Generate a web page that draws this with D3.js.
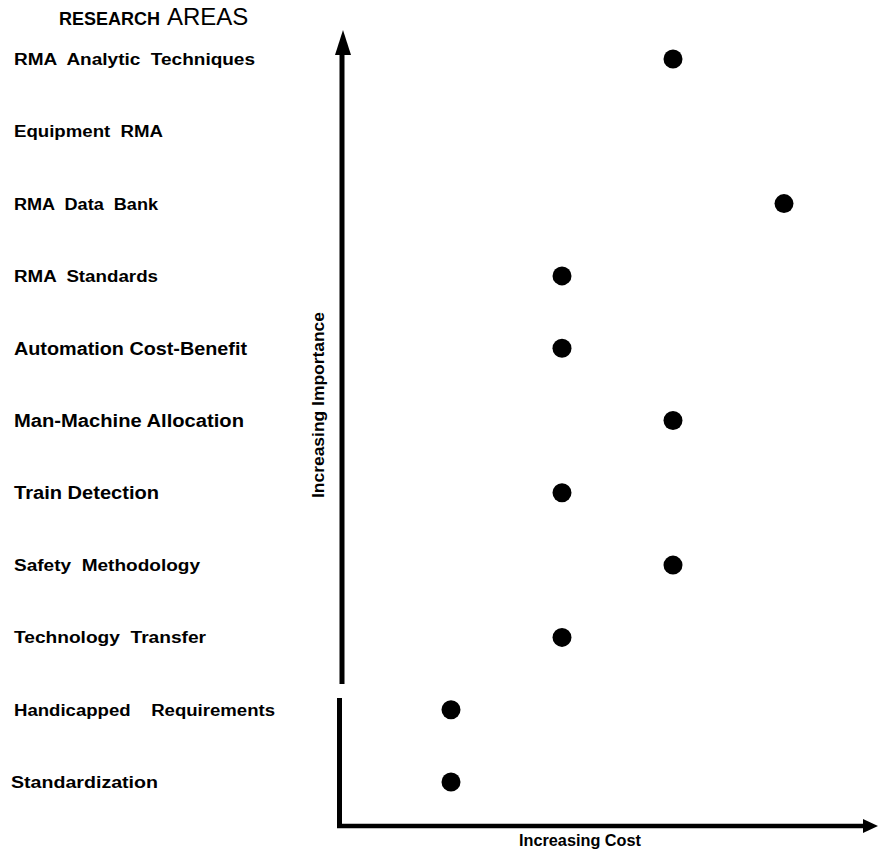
<!DOCTYPE html>
<html>
<head>
<meta charset="utf-8">
<script src="https://cdn.jsdelivr.net/npm/d3@7"></script>
<style>
  html, body { margin: 0; padding: 0; background: #fff; }
  svg { display: block; }
  text { font-family: "Liberation Sans", Arial, Helvetica, sans-serif; fill: #000; }
</style>
</head>
<body>
<svg id="chart" width="878" height="852"></svg>
<script>
// ---- data ----
const categories = [
  "RMA  Analytic  Techniques",
  "Equipment  RMA",
  "RMA  Data  Bank",
  "RMA  Standards",
  "Automation Cost-Benefit",
  "Man-Machine Allocation",
  "Train Detection",
  "Safety  Methodology",
  "Technology  Transfer",
  "Handicapped    Requirements",
  "Standardization"
];
// relative cost level (1 = lowest); null = no marker
const costLevel = [3, null, 4, 2, 2, 3, 2, 3, 2, 1, 1];
// measured label widths (px) to match the scanned typesetting
const labelWidth = [241, 149, 144, 144, 233, 230, 145, 186, 192, 261, 147];
const labelSize = [16, 16, 16, 16, 18, 18, 18, 16, 16, 16, 16.5];

const titleBold = "RESEARCH";
const titleRegular = "AREAS";
const yAxisTitle = "Increasing Importance";
const xAxisTitle = "Increasing Cost";

// ---- layout ----
const svg = d3.select("#chart");

const y = d3.scalePoint().domain(categories).range([59, 782]);
const x = d3.scaleLinear().domain([1, 4]).range([451, 784]);

// title
const title = svg.append("text").attr("x", 59).attr("y", 25);
title.append("tspan").attr("font-weight", "bold").attr("font-size", 18).text(titleBold);
title.append("tspan").attr("font-size", 24).attr("dx", 7).text(titleRegular);

// category labels
svg.append("g").selectAll("text")
  .data(categories)
  .join("text")
  .attr("x", (d, i) => i === categories.length - 1 ? 11 : 14)
  .attr("y", (d, i) => y(d) + (labelSize[i] > 17 ? 6.5 : 6))
  .attr("font-weight", "bold")
  .attr("font-size", (d, i) => labelSize[i])
  .attr("textLength", (d, i) => labelWidth[i])
  .attr("lengthAdjust", "spacingAndGlyphs")
  .style("white-space", "pre")
  .text(d => d);

// y axis (with break)
svg.append("line").attr("x1", 342).attr("x2", 342).attr("y1", 48).attr("y2", 684)
  .attr("stroke", "#000").attr("stroke-width", 5);
svg.append("path").attr("d", "M343,30 L351,55 L335,55 Z").attr("fill", "#000");
svg.append("line").attr("x1", 339.5).attr("x2", 339.5).attr("y1", 698).attr("y2", 828)
  .attr("stroke", "#000").attr("stroke-width", 5);

// x axis
svg.append("line").attr("x1", 337).attr("x2", 866).attr("y1", 826).attr("y2", 826)
  .attr("stroke", "#000").attr("stroke-width", 4.5);
svg.append("path").attr("d", "M878,826 L863,819 L863,833 Z").attr("fill", "#000");

// axis titles
svg.append("text")
  .attr("transform", "translate(324,405) rotate(-90)")
  .attr("text-anchor", "middle")
  .attr("font-weight", "bold")
  .attr("font-size", 17)
  .attr("textLength", 186)
  .attr("lengthAdjust", "spacingAndGlyphs")
  .text(yAxisTitle);

svg.append("text")
  .attr("x", 580).attr("y", 846)
  .attr("text-anchor", "middle")
  .attr("font-weight", "bold")
  .attr("font-size", 16)
  .attr("textLength", 122)
  .attr("lengthAdjust", "spacingAndGlyphs")
  .text(xAxisTitle);

// markers
const pts = categories.map((c, i) => ({ c, v: costLevel[i] })).filter(d => d.v != null);
svg.append("g").selectAll("circle")
  .data(pts)
  .join("circle")
  .attr("cx", d => x(d.v))
  .attr("cy", d => y(d.c))
  .attr("r", 9.5)
  .attr("fill", "#000");
</script>
</body>
</html>
